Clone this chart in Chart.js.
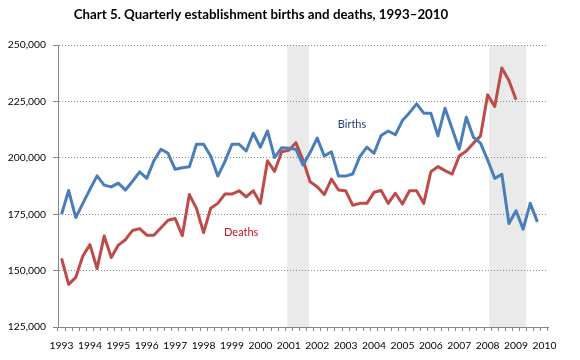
<!DOCTYPE html>
<html><head><meta charset="utf-8">
<script src="https://cdn.jsdelivr.net/npm/chart.js@4"></script>
<style>html,body{margin:0;padding:0;background:#fff}</style>
</head><body>
<canvas id="c" width="580" height="360" style="display:block;width:580px;height:360px"></canvas>
<script>
const chartTitle = 'Chart 5. Quarterly establishment births and deaths, 1993\u20132010';
const yearLabels = ['1993','1994','1995','1996','1997','1998','1999','2000','2001','2002','2003','2004','2005','2006','2007','2008','2009','2010'];
const quarterCount = 69;
const births = [175000,185500,173500,179800,186000,192000,187900,187100,188800,185700,189600,193800,190900,198700,203800,202000,194900,195600,196000,206000,206000,200800,191900,198300,206000,206000,203000,210900,204700,211900,200100,204500,204200,203800,196800,202300,208700,200800,202700,191900,191900,192800,200500,204700,202000,209900,211900,210200,216500,220000,223900,219800,219800,209700,222000,212900,203800,218000,209100,206500,199000,190900,192700,170900,176500,168400,179800,171600];
const deaths = [155400,143900,147000,156500,161500,150900,165300,155800,161300,163700,167800,168600,165700,165700,169000,172300,173100,165500,183700,177600,166800,177600,179800,183900,183900,185400,182700,185400,179800,198700,194000,202700,203300,206700,199000,189400,187200,183700,190600,185700,185400,179000,179800,179800,184700,185500,179800,184300,179500,185400,185400,179800,193800,196100,194300,192800,200800,203000,206500,209700,227900,222700,239800,234300,225700];
const yMin = 125000, yMax = 250000, yStep = 25000;
const recessions = [[2001.07, 2001.84], [2008.18, 2009.49]];
const seriesNotes = [
  {text: 'Births', index: 40.9, value: 214600, color: '#1F3F77'},
  {text: 'Deaths', index: 25.3, value: 167000, color: '#C0141E'}
];

const categories = [];
for (let i = 0; i < quarterCount; i++) {
  categories.push(yearLabels[Math.floor(i / 4)] + ' Q' + (i % 4 + 1));
}
const yearToIndex = y => (y - 1993) * 4 - 0.5;

const FONT = 'Lato';
Chart.defaults.font.family = FONT;
Chart.defaults.color = '#000';

const shadePlugin = {
  id: 'shade',
  beforeDraw(chart) {
    const {ctx, chartArea, scales} = chart;
    ctx.save();
    ctx.fillStyle = '#EAEAEA';
    recessions.forEach(([a, b]) => {
      const x1 = scales.x.getPixelForValue(yearToIndex(a));
      const x2 = scales.x.getPixelForValue(yearToIndex(b));
      ctx.fillRect(x1, chartArea.top, x2 - x1, chartArea.bottom - chartArea.top);
    });
    ctx.restore();
  }
};
const textPlugin = {
  id: 'texts',
  afterDraw(chart) {
    const {ctx, scales} = chart;
    ctx.save();
    ctx.textAlign = 'center';
    ctx.textBaseline = 'middle';
    ctx.fillStyle = '#000';
    ctx.font = 'bold 13.3px ' + FONT;
    ctx.fillText(chartTitle, 261, 15);
    ctx.font = '11px ' + FONT;
    seriesNotes.forEach(n => {
      ctx.fillStyle = n.color;
      ctx.fillText(n.text, scales.x.getPixelForValue(n.index), scales.y.getPixelForValue(n.value));
    });
    ctx.restore();
  }
};

new Chart(document.getElementById('c'), {
  type: 'line',
  data: {
    labels: categories,
    datasets: [
      {label: 'Births', data: births, borderColor: '#4A7EBB', borderWidth: 3, pointRadius: 0, tension: 0, fill: false, borderJoinStyle: 'round'},
      {label: 'Deaths', data: deaths, borderColor: '#BE4B48', borderWidth: 3, pointRadius: 0, tension: 0, fill: false, borderJoinStyle: 'round'}
    ]
  },
  options: {
    responsive: false,
    animation: false,
    devicePixelRatio: 1,
    layout: {padding: {top: 45, right: 32, left: 0, bottom: 0}},
    plugins: {legend: {display: false}, tooltip: {enabled: false}, title: {display: false}},
    scales: {
      x: {
        type: 'category',
        offset: true,
        grid: {display: true, drawOnChartArea: false, drawTicks: true, tickLength: 4, tickColor: '#868686', offset: true},
        border: {display: true, color: '#868686', width: 1},
        ticks: {
          autoSkip: false, maxRotation: 0, minRotation: 0, padding: 8,
          font: {size: 10.3, family: FONT}, color: '#000',
          callback: (v, i) => (i % 4 === 0 ? yearLabels[i / 4] : '')
        },
        afterFit: s => { s.height = 33; }
      },
      y: {
        min: yMin, max: yMax,
        grid: {
          color: c => (c.tick && c.tick.value === yMin ? 'rgba(0,0,0,0)' : '#8C8C8C'),
          tickColor: '#868686', tickLength: 5, drawTicks: true
        },
        border: {display: true, color: '#868686', width: 1, dash: [1, 2]},
        ticks: {
          stepSize: yStep, padding: 7, font: {size: 10.3, family: FONT}, color: '#000',
          callback: v => v.toLocaleString('en-US')
        },
        afterFit: s => { s.width = 58; }
      }
    }
  },
  plugins: [shadePlugin, textPlugin]
});
</script>
</body></html>
